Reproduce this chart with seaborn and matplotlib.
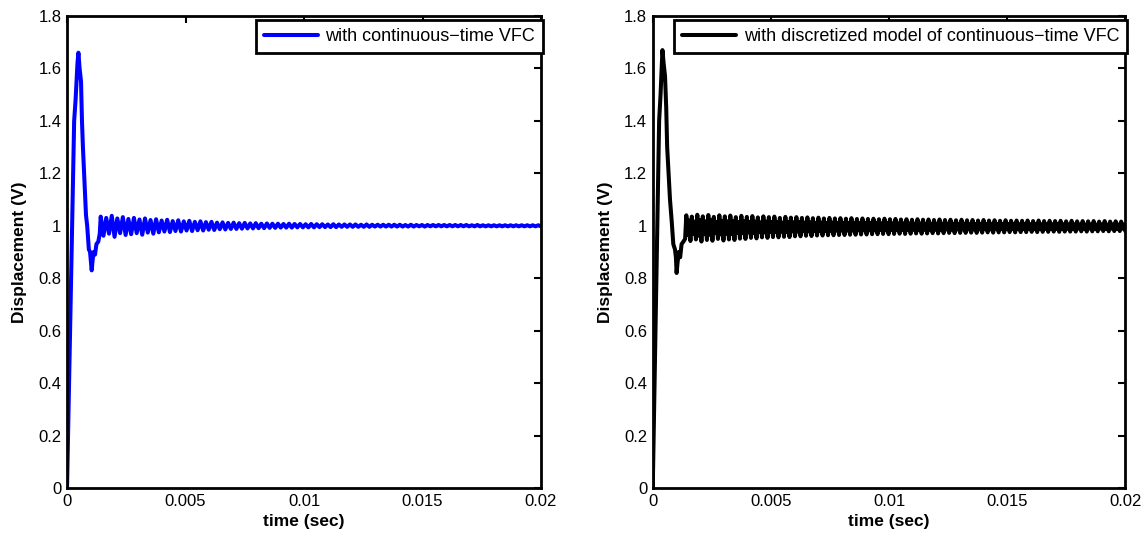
import numpy as np
import pandas as pd
import matplotlib
matplotlib.use("Agg")
import matplotlib.pyplot as plt
import seaborn as sns

# ---------------- data ----------------
# transient part, continuous-time VFC
t_trans_cont = [0.0, 0.00030, 0.00036, 0.00044, 0.00048, 0.00053, 0.00059, 0.00063,
                0.00067, 0.00072, 0.00080, 0.00085, 0.00092, 0.00097, 0.00104,
                0.00108, 0.00112, 0.00118, 0.00124, 0.00132, 0.00138]
y_trans_cont = [0.0, 1.40, 1.48, 1.62, 1.66, 1.60, 1.55, 1.40,
                1.30, 1.20, 1.04, 1.00, 0.91, 0.90, 0.83,
                0.87, 0.90, 0.89, 0.93, 0.94, 0.97]

# oscillation extrema, continuous-time VFC
peaks_cont = [1.035, 1.030, 1.038, 1.028, 1.033, 1.026, 1.030, 1.024, 1.028, 1.022,
              1.025, 1.020, 1.023, 1.018, 1.021, 1.017, 1.019, 1.015, 1.017, 1.014,
              1.015, 1.012, 1.013, 1.011, 1.012, 1.010, 1.011, 1.009, 1.010, 1.008,
              1.009, 1.008, 1.008, 1.007, 1.008, 1.007, 1.007, 1.006, 1.007, 1.006,
              1.006, 1.005, 1.006, 1.005, 1.005, 1.005, 1.005, 1.004, 1.005, 1.004,
              1.004, 1.004, 1.004, 1.004, 1.004, 1.003, 1.004, 1.003, 1.003, 1.003,
              1.003, 1.003, 1.003, 1.003, 1.003, 1.003, 1.003, 1.002, 1.003, 1.002,
              1.002, 1.002, 1.002, 1.002, 1.002, 1.002, 1.002, 1.002, 1.002, 1.002]
troughs_cont = [0.962, 0.970, 0.958, 0.972, 0.965, 0.968, 0.972, 0.966, 0.974, 0.970,
                0.975, 0.978, 0.976, 0.980, 0.978, 0.982, 0.980, 0.983, 0.982, 0.985,
                0.984, 0.987, 0.986, 0.988, 0.988, 0.989, 0.990, 0.990, 0.991, 0.991,
                0.992, 0.992, 0.993, 0.993, 0.993, 0.994, 0.994, 0.994, 0.994, 0.995,
                0.995, 0.995, 0.995, 0.996, 0.996, 0.996, 0.996, 0.996, 0.996, 0.997,
                0.997, 0.997, 0.997, 0.997, 0.997, 0.997, 0.997, 0.998, 0.997, 0.998,
                0.998, 0.998, 0.998, 0.998, 0.998, 0.998, 0.998, 0.998, 0.998, 0.998,
                0.998, 0.998, 0.998, 0.998, 0.998, 0.998, 0.998, 0.998, 0.998, 0.998]

# transient part, discretized model
t_trans_disc = [0.0, 0.00027, 0.00033, 0.00041, 0.00046, 0.00052, 0.00057, 0.00061,
                0.00067, 0.00073, 0.00080, 0.00087, 0.00094, 0.00098, 0.00101,
                0.00105, 0.00110, 0.00116, 0.00122, 0.00130, 0.00137]
y_trans_disc = [0.0, 1.40, 1.50, 1.67, 1.62, 1.57, 1.45, 1.30,
                1.20, 1.10, 1.02, 0.93, 0.91, 0.88, 0.82,
                0.86, 0.90, 0.88, 0.93, 0.94, 0.95]

peaks_disc = [1.040, 1.035, 1.042, 1.036, 1.041, 1.034, 1.040, 1.036, 1.039, 1.033,
              1.038, 1.034, 1.037, 1.032, 1.036, 1.033, 1.035, 1.030, 1.034, 1.031,
              1.033, 1.030, 1.032, 1.029, 1.031, 1.028, 1.030, 1.028, 1.029, 1.027,
              1.029, 1.026, 1.028, 1.026, 1.027, 1.025, 1.027, 1.025, 1.026, 1.024,
              1.025, 1.023, 1.025, 1.023, 1.024, 1.022, 1.024, 1.022, 1.023, 1.021,
              1.023, 1.021, 1.022, 1.020, 1.022, 1.020, 1.021, 1.019, 1.021, 1.019,
              1.020, 1.019, 1.020, 1.018, 1.020, 1.018, 1.019, 1.018, 1.019, 1.017,
              1.019, 1.017, 1.018, 1.017, 1.018, 1.016, 1.018, 1.016, 1.017, 1.016]
# inner ripple inside each discretized cycle (low, high)
inner_low_disc = [0.965, 0.970, 0.962, 0.968, 0.966, 0.972, 0.967, 0.970, 0.969, 0.973,
                  0.972, 0.975, 0.973, 0.977, 0.975, 0.977, 0.976, 0.978, 0.977, 0.979,
                  0.978, 0.980, 0.979, 0.981, 0.980, 0.981, 0.981, 0.982, 0.982, 0.982,
                  0.982, 0.983, 0.983, 0.983, 0.983, 0.984, 0.983, 0.984, 0.984, 0.984,
                  0.984, 0.985, 0.984, 0.985, 0.985, 0.985, 0.985, 0.986, 0.985, 0.986,
                  0.986, 0.986, 0.986, 0.986, 0.987, 0.986, 0.987, 0.987, 0.987, 0.987,
                  0.987, 0.987, 0.988, 0.987, 0.988, 0.988, 0.988, 0.988, 0.988, 0.988,
                  0.988, 0.989, 0.988, 0.989, 0.989, 0.989, 0.989, 0.989, 0.989, 0.989]
inner_high_disc = [1.020, 1.016, 1.022, 1.017, 1.021, 1.015, 1.019, 1.017, 1.018, 1.014,
                   1.017, 1.015, 1.016, 1.013, 1.016, 1.014, 1.015, 1.012, 1.014, 1.013,
                   1.014, 1.012, 1.013, 1.011, 1.012, 1.011, 1.012, 1.011, 1.011, 1.010,
                   1.011, 1.010, 1.010, 1.010, 1.010, 1.009, 1.010, 1.009, 1.009, 1.009,
                   1.009, 1.008, 1.009, 1.008, 1.008, 1.008, 1.008, 1.008, 1.008, 1.007,
                   1.008, 1.007, 1.007, 1.007, 1.007, 1.007, 1.007, 1.006, 1.007, 1.006,
                   1.006, 1.006, 1.006, 1.006, 1.006, 1.006, 1.006, 1.006, 1.006, 1.005,
                   1.006, 1.005, 1.005, 1.005, 1.005, 1.005, 1.005, 1.005, 1.005, 1.005]
troughs_disc = [0.942, 0.948, 0.940, 0.946, 0.943, 0.950, 0.944, 0.948, 0.946, 0.951,
                0.950, 0.954, 0.952, 0.956, 0.954, 0.957, 0.956, 0.958, 0.957, 0.960,
                0.960, 0.962, 0.961, 0.963, 0.963, 0.964, 0.964, 0.965, 0.965, 0.966,
                0.966, 0.967, 0.967, 0.968, 0.968, 0.969, 0.968, 0.969, 0.970, 0.969,
                0.970, 0.971, 0.970, 0.971, 0.972, 0.971, 0.972, 0.973, 0.972, 0.973,
                0.973, 0.974, 0.973, 0.974, 0.975, 0.974, 0.975, 0.975, 0.976, 0.975,
                0.976, 0.976, 0.977, 0.976, 0.977, 0.977, 0.978, 0.977, 0.978, 0.978,
                0.978, 0.979, 0.978, 0.979, 0.979, 0.980, 0.979, 0.980, 0.980, 0.980]

osc_start = 0.00142   # s, where the steady oscillation begins
t_end = 0.02          # s

x_ticks = [0, 0.005, 0.01, 0.015, 0.02]
x_tick_labels = ["0", "0.005", "0.01", "0.015", "0.02"]
y_ticks = [0, 0.2, 0.4, 0.6, 0.8, 1.0, 1.2, 1.4, 1.6, 1.8]
y_tick_labels = ["0", "0.2", "0.4", "0.6", "0.8", "1", "1.2", "1.4", "1.6", "1.8"]

label_cont = "with continuous\u2212time VFC"
label_disc = "with discretized model of continuous\u2212time VFC"


def build(t_trans, y_trans, cycles):
    ext = []
    for c in zip(*cycles):
        ext += list(c)
    t_osc = np.linspace(osc_start, t_end, len(ext))
    t = np.concatenate([t_trans, t_osc])
    y = np.concatenate([y_trans, ext])
    return pd.DataFrame({"t": t, "y": y})


df_cont = build(t_trans_cont, y_trans_cont, [peaks_cont, troughs_cont])
df_disc = build(t_trans_disc, y_trans_disc,
                [peaks_disc, inner_low_disc, inner_high_disc, troughs_disc])

# ---------------- figure ----------------
sns.set_theme(style="white")
plt.rcParams["font.family"] = ["Liberation Sans", "DejaVu Sans"]
plt.rcParams["text.color"] = "black"
plt.rcParams["axes.labelcolor"] = "black"
plt.rcParams["xtick.color"] = "black"
plt.rcParams["ytick.color"] = "black"

fig = plt.figure(figsize=(11.48, 5.37), dpi=100)
ax1 = fig.add_axes([0.0584, 0.0912, 0.4129, 0.8790])
ax2 = fig.add_axes([0.5686, 0.0912, 0.4116, 0.8790])

for ax, df, color, label in [(ax1, df_cont, "#0000ff", label_cont),
                             (ax2, df_disc, "#000000", label_disc)]:
    sns.lineplot(data=df, x="t", y="y", ax=ax, color=color, linewidth=2.9,
                 estimator=None, sort=False, label=label)
    ax.set_xlim(0, 0.02)
    ax.set_ylim(0, 1.8)
    ax.set_xticks(x_ticks)
    ax.set_xticklabels(x_tick_labels)
    ax.set_yticks(y_ticks)
    ax.set_yticklabels(y_tick_labels)
    ax.tick_params(direction="in", length=5, width=1.5, top=True, right=True,
                   labelsize=12, colors="black", labelcolor="black", pad=4)
    for s in ax.spines.values():
        s.set_linewidth(2.0)
        s.set_color("black")
    ax.set_xlabel("time (sec)", fontsize=12.5, fontweight="bold", labelpad=4,
                  color="black")
    ax.set_ylabel("Displacement (V)", fontsize=12.5, fontweight="bold", labelpad=8,
                  color="black")
    ax.set_facecolor("white")
    leg = ax.legend(loc="upper right", bbox_to_anchor=(1.004, 0.992), fontsize=13,
                    frameon=True, fancybox=False, handlelength=3.0,
                    handletextpad=0.4, borderpad=0.45, borderaxespad=0.0,
                    framealpha=1)
    leg.get_frame().set_edgecolor("black")
    leg.get_frame().set_linewidth(2.0)
    for txt in leg.get_texts():
        txt.set_color("black")
    for h in leg.get_lines():
        h.set_linewidth(2.9)

fig.savefig("out.png", dpi=100, facecolor="white")
